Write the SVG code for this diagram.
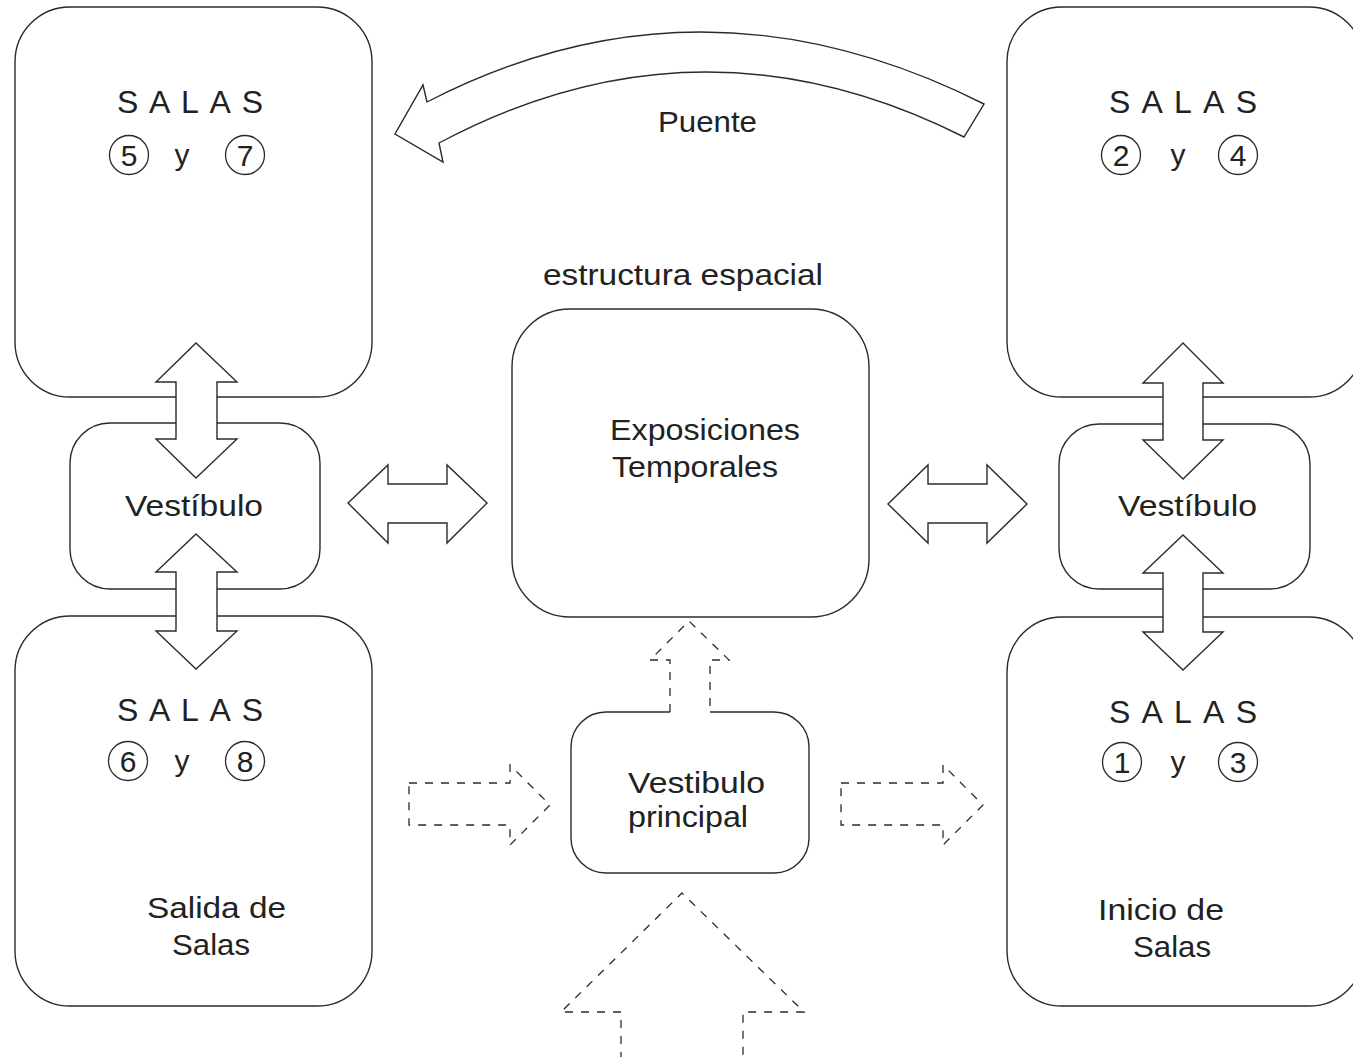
<svg xmlns="http://www.w3.org/2000/svg" width="1353" height="1057" viewBox="0 0 1353 1057">
  <style>
    .box { fill: #ffffff; stroke: #2b2b2b; stroke-width: 1.4; }
    .arrow { fill: #ffffff; stroke: #2b2b2b; stroke-width: 1.4; stroke-linejoin: miter; }
    .dash { fill: none; stroke: #2b2b2b; stroke-width: 1.3; stroke-dasharray: 8 8; }
    .num { fill: none; stroke: #2b2b2b; stroke-width: 1.3; }
    text { font-family: "Liberation Sans", "DejaVu Sans", sans-serif; fill: #222222; }
    .salas { font-size: 32px; }
    .lbl { font-size: 30px; }
    .digit { font-size: 30px; text-anchor: middle; }
  </style>
  <rect width="1353" height="1057" fill="#ffffff"/>

  <!-- rooms 5 and 7 -->
  <g id="salas-5-7">
    <rect class="box" x="15" y="7" width="357" height="390" rx="55"/>
    <text class="salas" x="117" y="113" textLength="146" lengthAdjust="spacing">SALAS</text>
    <circle class="num" cx="129" cy="155" r="19.5"/>
    <text class="digit" x="129" y="166">5</text>
    <text class="lbl" x="182" y="165" text-anchor="middle">y</text>
    <circle class="num" cx="245" cy="155" r="19.5"/>
    <text class="digit" x="245" y="166">7</text>
  </g>

  <!-- rooms 2 and 4 -->
  <g id="salas-2-4">
    <rect class="box" x="1007" y="7" width="357" height="390" rx="55"/>
    <text class="salas" x="1109" y="113" textLength="148" lengthAdjust="spacing">SALAS</text>
    <circle class="num" cx="1121" cy="155" r="19.5"/>
    <text class="digit" x="1121" y="166">2</text>
    <text class="lbl" x="1178" y="165" text-anchor="middle">y</text>
    <circle class="num" cx="1238" cy="155" r="19.5"/>
    <text class="digit" x="1238" y="166">4</text>
  </g>

  <!-- rooms 6 and 8 -->
  <g id="salas-6-8">
    <rect class="box" x="15" y="616" width="357" height="390" rx="55"/>
    <text class="salas" x="117" y="721" textLength="146" lengthAdjust="spacing">SALAS</text>
    <circle class="num" cx="128" cy="761" r="19.5"/>
    <text class="digit" x="128" y="772">6</text>
    <text class="lbl" x="182" y="771" text-anchor="middle">y</text>
    <circle class="num" cx="245" cy="761" r="19.5"/>
    <text class="digit" x="245" y="772">8</text>
    <text class="lbl" x="147" y="918" textLength="139" lengthAdjust="spacingAndGlyphs">Salida de</text>
    <text class="lbl" x="172" y="955" textLength="78" lengthAdjust="spacingAndGlyphs">Salas</text>
  </g>

  <!-- rooms 1 and 3 -->
  <g id="salas-1-3">
    <rect class="box" x="1007" y="617" width="357" height="389" rx="55"/>
    <text class="salas" x="1109" y="723" textLength="148" lengthAdjust="spacing">SALAS</text>
    <circle class="num" cx="1122" cy="762" r="19.5"/>
    <text class="digit" x="1122" y="773">1</text>
    <text class="lbl" x="1178" y="772" text-anchor="middle">y</text>
    <circle class="num" cx="1238" cy="762" r="19.5"/>
    <text class="digit" x="1238" y="773">3</text>
    <text class="lbl" x="1098" y="920" textLength="126" lengthAdjust="spacingAndGlyphs">Inicio de</text>
    <text class="lbl" x="1133" y="957" textLength="78" lengthAdjust="spacingAndGlyphs">Salas</text>
  </g>

  <!-- left lobby -->
  <g id="vestibulo-izq">
    <rect class="box" x="70" y="423" width="250" height="166" rx="40"/>
    <text class="lbl" x="125" y="516" textLength="138" lengthAdjust="spacingAndGlyphs">Vestíbulo</text>
  </g>

  <!-- right lobby -->
  <g id="vestibulo-der">
    <rect class="box" x="1059" y="424" width="251" height="165" rx="40"/>
    <text class="lbl" x="1118" y="516" textLength="139" lengthAdjust="spacingAndGlyphs">Vestíbulo</text>
  </g>

  <!-- temporary exhibitions -->
  <g id="exposiciones">
    <text class="lbl" x="543" y="285" textLength="280" lengthAdjust="spacingAndGlyphs">estructura espacial</text>
    <rect class="box" x="512" y="309" width="357" height="308" rx="58"/>
    <text class="lbl" x="610" y="440" textLength="190" lengthAdjust="spacingAndGlyphs">Exposiciones</text>
    <text class="lbl" x="612" y="477" textLength="166" lengthAdjust="spacingAndGlyphs">Temporales</text>
  </g>

  <!-- main lobby (top edge open where the dashed exit leaves) -->
  <g id="vestibulo-principal">
    <path class="box" d="M670,712 L606,712 A35,35 0 0 0 571,747 L571,838 A35,35 0 0 0 606,873 L774,873 A35,35 0 0 0 809,838 L809,747 A35,35 0 0 0 774,712 L710,712"/>
    <text class="lbl" x="628" y="793" textLength="137" lengthAdjust="spacingAndGlyphs">Vestibulo</text>
    <text class="lbl" x="628" y="827" textLength="120" lengthAdjust="spacingAndGlyphs">principal</text>
  </g>

  <g id="connectors">
    <!-- bridge -->
    <path class="arrow" d="M984,104 Q700,-39 427,102 L423,85 L395,134 L443,162 L439,143 Q700,4 964,137 Z"/>
    <text class="lbl" x="658" y="132" textLength="99" lengthAdjust="spacingAndGlyphs">Puente</text>

    <!-- left column double arrows -->
    <path class="arrow" d="M196,343 L237,382 L217,382 L217,439 L237,439 L196,478 L156,439 L176,439 L176,382 L156,382 Z"/>
    <path class="arrow" d="M196,534 L237,572 L217,572 L217,631 L237,631 L196,669 L156,631 L176,631 L176,572 L156,572 Z"/>

    <!-- right column double arrows -->
    <path class="arrow" d="M1183,343 L1223,383 L1203,383 L1203,440 L1223,440 L1183,479 L1143,440 L1163,440 L1163,383 L1143,383 Z"/>
    <path class="arrow" d="M1183,535 L1223,573 L1203,573 L1203,632 L1223,632 L1183,670 L1143,632 L1163,632 L1163,573 L1143,573 Z"/>

    <!-- horizontal double arrows -->
    <path class="arrow" d="M348,503 L388,465 L388,484 L447,484 L447,465 L487,503 L447,543 L447,523 L388,523 L388,543 Z"/>
    <path class="arrow" d="M888,504 L928,465 L928,484 L987,484 L987,465 L1027,504 L987,543 L987,523 L928,523 L928,543 Z"/>

    <!-- dashed circulation arrows -->
    <path class="dash" d="M670,712 L670,660 L650,660 L689,621 L729,660 L710,660 L710,712"/>
    <path class="dash" d="M621,1060 L621,1012 L561,1012 L682,893 L804,1012 L743,1012 L743,1060"/>
    <path class="dash" d="M409,783 L510,783 L510,765 L550,805 L510,845 L510,825 L409,825 Z"/>
    <path class="dash" d="M841,783 L943,783 L943,765 L983,805 L943,845 L943,825 L841,825 Z"/>
  </g>
</svg>
